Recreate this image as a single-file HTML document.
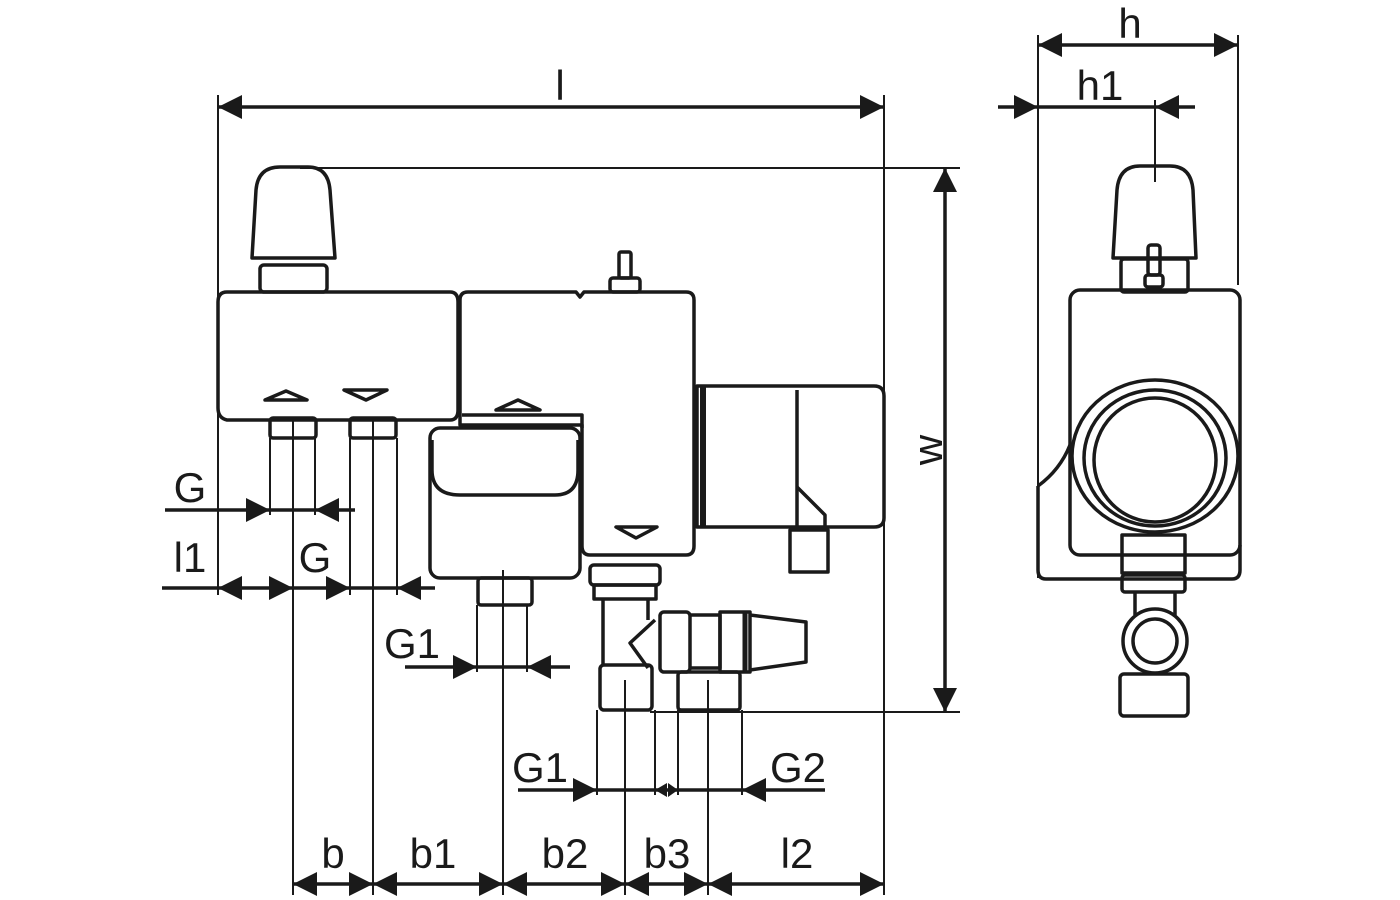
<!DOCTYPE html>
<html><head><meta charset="utf-8"><style>
html,body{margin:0;padding:0;background:#fff}
svg{display:block}
text{font-family:"Liberation Sans",sans-serif;font-size:42px;fill:#1a1a1a}
</style></head><body>
<svg width="1400" height="900" viewBox="0 0 1400 900" xmlns="http://www.w3.org/2000/svg">
<defs>
<marker id="a" markerUnits="userSpaceOnUse" markerWidth="26" markerHeight="26" refX="24" refY="12" orient="auto-start-reverse" viewBox="0 0 26 24">
<path d="M0,0 L24,12 L0,24 z" fill="#1a1a1a"/></marker>
</defs>
<g stroke="#1a1a1a" fill="none">
<g stroke-width="2">
<line x1="218" y1="95" x2="218" y2="595"/>
<line x1="884" y1="95" x2="884" y2="895"/>
<line x1="300" y1="168" x2="960" y2="168"/>
<line x1="650" y1="712" x2="960" y2="712"/>
<line x1="1038" y1="35" x2="1038" y2="578"/>
<line x1="1238" y1="35" x2="1238" y2="285"/>
<line x1="1155" y1="100" x2="1155" y2="182"/>
<line x1="293" y1="420" x2="293" y2="895"/>
<line x1="373" y1="420" x2="373" y2="895"/>
<line x1="503" y1="570" x2="503" y2="895"/>
<line x1="625" y1="680" x2="625" y2="895"/>
<line x1="708" y1="680" x2="708" y2="895"/>
<line x1="270" y1="438" x2="270" y2="515"/>
<line x1="315" y1="438" x2="315" y2="515"/>
<line x1="350" y1="438" x2="350" y2="595"/>
<line x1="397" y1="438" x2="397" y2="595"/>
<line x1="477" y1="605" x2="477" y2="672"/>
<line x1="527" y1="605" x2="527" y2="672"/>
<line x1="597" y1="710" x2="597" y2="795"/>
<line x1="655" y1="710" x2="655" y2="795"/>
<line x1="678" y1="710" x2="678" y2="795"/>
<line x1="742" y1="710" x2="742" y2="795"/>
</g>
<g stroke-width="3.5">
<line x1="218" y1="107" x2="884" y2="107" marker-start="url(#a)" marker-end="url(#a)"/>
<line x1="945" y1="168" x2="945" y2="712" marker-start="url(#a)" marker-end="url(#a)"/>
<line x1="1038" y1="45" x2="1238" y2="45" marker-start="url(#a)" marker-end="url(#a)"/>
<line x1="998" y1="107" x2="1038" y2="107" marker-end="url(#a)"/>
<line x1="1038" y1="107" x2="1155" y2="107"/>
<line x1="1195" y1="107" x2="1155" y2="107" marker-end="url(#a)"/>
<line x1="293" y1="884" x2="373" y2="884" marker-start="url(#a)" marker-end="url(#a)"/>
<line x1="373" y1="884" x2="503" y2="884" marker-start="url(#a)" marker-end="url(#a)"/>
<line x1="503" y1="884" x2="625" y2="884" marker-start="url(#a)" marker-end="url(#a)"/>
<line x1="625" y1="884" x2="708" y2="884" marker-start="url(#a)" marker-end="url(#a)"/>
<line x1="708" y1="884" x2="884" y2="884" marker-start="url(#a)" marker-end="url(#a)"/>
<line x1="165" y1="510" x2="270" y2="510" marker-end="url(#a)"/>
<line x1="270" y1="510" x2="315" y2="510"/>
<line x1="355" y1="510" x2="315" y2="510" marker-end="url(#a)"/>
<line x1="162" y1="588" x2="218" y2="588"/>
<line x1="218" y1="588" x2="293" y2="588" marker-start="url(#a)" marker-end="url(#a)"/>
<line x1="293" y1="588" x2="350" y2="588" marker-end="url(#a)"/>
<line x1="350" y1="588" x2="397" y2="588"/>
<line x1="435" y1="588" x2="397" y2="588" marker-end="url(#a)"/>
<line x1="405" y1="667" x2="477" y2="667" marker-end="url(#a)"/>
<line x1="477" y1="667" x2="527" y2="667"/>
<line x1="570" y1="667" x2="527" y2="667" marker-end="url(#a)"/>
<line x1="518" y1="790" x2="597" y2="790" marker-end="url(#a)"/>
<line x1="597" y1="790" x2="742" y2="790"/>
<line x1="825" y1="790" x2="742" y2="790" marker-end="url(#a)"/>
</g>
<path d="M655,790 l12,-7 v14z M678,790 l-10,-7 v14z" fill="#1a1a1a" stroke="none"/>

<g stroke-width="3.5" stroke-linejoin="round">
<path d="M252,258 L256,190 Q258,167 280,167 L308,167 Q328,167 330,190 L335,258 Z"/>
<rect x="260" y="265" width="67" height="27" rx="4"/>
<path d="M227,292 H450 Q458,292 458,302 V410 Q458,420 450,420 H227 Q218,418 218,408 V302 Q218,292 227,292Z"/>
<path d="M265,400 L286,391 L307,400 Z"/>
<path d="M344,390 H387 L366,400 Z"/>
<rect x="270" y="418" width="46" height="20" rx="3"/>
<rect x="350" y="418" width="46" height="20" rx="3"/>
<path d="M468,292 H576 L580,297 L584,292 H686 Q694,292 694,300 V546 Q694,555 686,555 H590 Q582,555 582,546 V425 H460 V300 Q460,292 468,292Z"/>
<rect x="610" y="278" width="30" height="14" rx="3"/>
<rect x="619" y="252" width="12" height="26" rx="2"/>
<path d="M496,410 L518,400 L540,410 Z"/>
<path d="M616,527 H657 L636,538 Z"/>
<path d="M462,415 H582 V428"/>
<rect x="430" y="428" width="150" height="150" rx="10"/>
<path d="M432,440 V470 Q432,495 460,495 H555 Q578,495 578,470 V440"/>
<rect x="478" y="578" width="54" height="27" rx="3"/>
<path d="M697,386 H874 Q884,386 884,396 V518 Q884,527 874,527 H697 Z"/>
<line x1="703" y1="386" x2="703" y2="527" stroke-width="6"/>
<line x1="797" y1="390" x2="797" y2="527"/>
<path d="M797,487 L825,515 V527"/>
<rect x="790" y="530" width="38" height="42"/>
<rect x="590" y="565" width="70" height="20" rx="4"/>
<rect x="594" y="585" width="62" height="14"/>
<path d="M603,599 V665 M648,599 V620"/>
<path d="M655,620 L630,643 L648,668"/>
<rect x="600" y="665" width="52" height="45" rx="4"/>
<rect x="660" y="612" width="30" height="60" rx="4"/>
<path d="M690,615 H720 V668 H690"/>
<rect x="720" y="612" width="30" height="60"/>
<line x1="745" y1="612" x2="745" y2="672" stroke-width="5"/>
<path d="M750,615 L806,622 V662 L750,670"/>
<rect x="678" y="672" width="62" height="38" rx="3"/>

<!-- right view -->
<path d="M1113,258 L1117,190 Q1119,166 1140,166 L1170,166 Q1191,166 1193,190 L1196,258 Z"/>
<rect x="1121" y="259" width="67" height="33" rx="3"/>
<rect x="1148" y="245" width="12" height="30" rx="3"/>
<rect x="1145" y="275" width="18" height="12" rx="3"/>
<rect x="1070" y="290" width="170" height="265" rx="10"/>
<path d="M1038,486 Q1060,470 1070,445 M1038,486 V570 Q1038,579 1046,579 H1232 Q1240,579 1240,570 V545"/>
<ellipse cx="1155" cy="456" rx="83" ry="76"/>
<ellipse cx="1155" cy="458" rx="71" ry="68"/>
<ellipse cx="1155" cy="460" rx="61" ry="62"/>
<rect x="1122" y="535" width="63" height="38"/>
<rect x="1122" y="575" width="63" height="17" rx="3"/>
<path d="M1135,592 V615 M1175,592 V615"/>
<circle cx="1155" cy="641" r="32"/>
<circle cx="1155" cy="641" r="22"/>
<rect x="1120" y="674" width="68" height="42" rx="4"/>
</g>
</g>
<text x="560" y="100" text-anchor="middle">l</text>
<text x="1130" y="38" text-anchor="middle">h</text>
<text x="1100" y="100" text-anchor="middle">h1</text>
<text transform="translate(942,450) rotate(-90)" text-anchor="middle">w</text>
<text x="190" y="502" text-anchor="middle">G</text>
<text x="190" y="572" text-anchor="middle">l1</text>
<text x="315" y="572" text-anchor="middle">G</text>
<text x="412" y="658" text-anchor="middle">G1</text>
<text x="540" y="782" text-anchor="middle">G1</text>
<text x="798" y="782" text-anchor="middle">G2</text>
<text x="333" y="868" text-anchor="middle">b</text>
<text x="433" y="868" text-anchor="middle">b1</text>
<text x="565" y="868" text-anchor="middle">b2</text>
<text x="667" y="868" text-anchor="middle">b3</text>
<text x="797" y="868" text-anchor="middle">l2</text>
</svg>
</body></html>
